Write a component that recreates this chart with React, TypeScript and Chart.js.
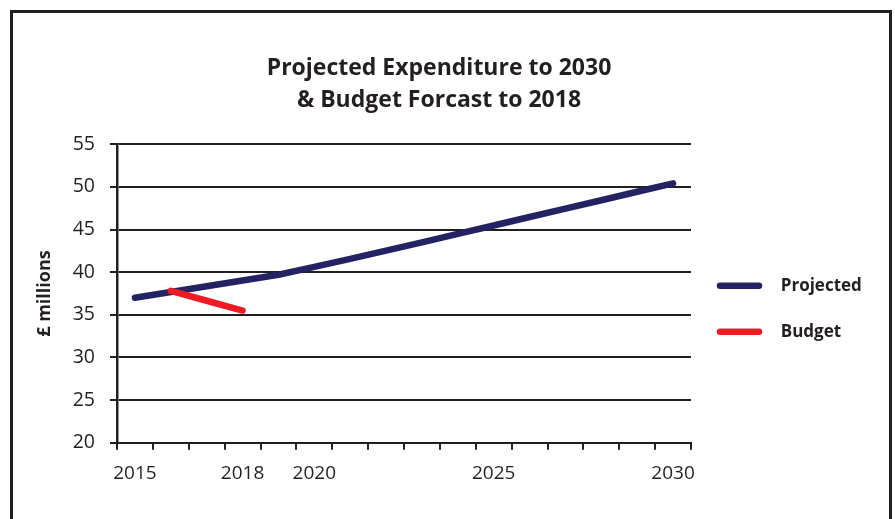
import React, { useEffect, useRef } from 'react';
import { Chart, registerables } from 'chart.js';

Chart.register(...registerables);

// ---- data ----
const categories = [
  '2015', '2016', '2017', '2018', '2019', '2020', '2021', '2022',
  '2023', '2024', '2025', '2026', '2027', '2028', '2029', '2030',
];
const projected = [
  37.0, 37.68, 38.35, 39.03, 39.7, 40.63, 41.57, 42.52,
  43.5, 44.5, 45.48, 46.47, 47.45, 48.44, 49.43, 50.42,
];
const budget = [
  null, 37.8, 36.65, 35.5, null, null, null, null,
  null, null, null, null, null, null, null, null,
];
const labeledYears = ['2015', '2018', '2020', '2025', '2030'];
const seriesNames = ['Projected', 'Budget'];
const titleLines = ['Projected Expenditure to 2030', '& Budget Forcast to 2018'];
const yAxisTitle = '£ millions';
const yMin = 20;
const yMax = 55;
const yStep = 5;

// ---- styles ----
const INK = '#231f20';
const NAVY = '#252263';
const RED = '#ed1c24';
const FONT = "'Open Sans', sans-serif";

export default function App() {
  const canvasRef = useRef<HTMLCanvasElement | null>(null);

  useEffect(() => {
    const canvas = canvasRef.current;
    if (!canvas) return;
    const chart = new Chart(canvas, {
      type: 'line',
      data: {
        labels: categories,
        datasets: [
          {
            label: seriesNames[0],
            data: projected,
            borderColor: NAVY,
            backgroundColor: NAVY,
            borderWidth: 6.5,
            borderCapStyle: 'round',
            borderJoinStyle: 'round',
            pointRadius: 0,
            tension: 0,
            order: 1,
          },
          {
            label: seriesNames[1],
            data: budget,
            borderColor: RED,
            backgroundColor: RED,
            borderWidth: 6.5,
            borderCapStyle: 'round',
            borderJoinStyle: 'round',
            pointRadius: 0,
            tension: 0,
            spanGaps: false,
            order: 0,
          },
        ],
      },
      options: {
        responsive: false,
        animation: false,
        devicePixelRatio: 1,
        layout: { padding: 0 },
        plugins: {
          tooltip: { enabled: false },
          title: {
            display: true,
            text: titleLines,
            color: INK,
            font: { family: FONT, size: 23, weight: 'bold', lineHeight: '32px' },
            padding: { top: 52.2, bottom: 28.1 },
          },
          legend: {
            display: true,
            position: 'right',
            align: 'center',
            fullSize: false,
            maxWidth: 187,
            title: {
              display: true,
              text: '',
              font: { size: 10, lineHeight: 3.04 },
              padding: 0,
            },
            labels: {
              usePointStyle: true,
              pointStyle: 'line',
              pointStyleWidth: 39,
              padding: 29,
              color: INK,
              font: { family: FONT, size: 17, weight: 'bold' },
              sort: (a: any, b: any) => a.datasetIndex - b.datasetIndex,
              generateLabels: (c: any) =>
                Chart.defaults.plugins.legend.labels
                  .generateLabels(c)
                  .map((l: any) => ({
                    ...l,
                    text: '   ' + l.text + '      ',
                    lineCap: 'round',
                    lineWidth: 6.5,
                  })),
            },
          },
        },
        scales: {
          x: {
            type: 'category',
            offset: true,
            afterFit: (scale: any) => {
              scale.height = 519 - 442.7;
            },
            grid: {
              offset: true,
              drawOnChartArea: false,
              drawTicks: true,
              tickLength: 7,
              color: INK,
              lineWidth: 2,
            },
            border: { display: true, color: INK, width: 2 },
            ticks: {
              autoSkip: false,
              maxRotation: 0,
              minRotation: 0,
              padding: 12,
              color: INK,
              font: { family: FONT, size: 19 },
              callback: (_v: any, i: number) =>
                labeledYears.includes(categories[i]) ? categories[i] : '',
            },
          },
          y: {
            min: yMin,
            max: yMax,
            afterFit: (scale: any) => {
              scale.width = 117;
            },
            grid: {
              color: INK,
              lineWidth: 2,
              drawTicks: true,
              tickLength: 7,
            },
            border: { display: true, color: INK, width: 2.5 },
            ticks: {
              stepSize: yStep,
              padding: 15,
              color: INK,
              font: { family: FONT, size: 19.5 },
            },
            title: {
              display: true,
              text: yAxisTitle,
              color: INK,
              font: { family: FONT, size: 18, weight: 'bold', lineHeight: 1.2 },
              padding: { top: 34, bottom: 0 },
            },
          },
        },
      },
    } as any);
    return () => chart.destroy();
  }, []);

  return (
    <div>
      <div
        style={{
          position: 'absolute',
          left: 10,
          top: 10,
          width: 882,
          height: 540,
          border: `3px solid ${INK}`,
          boxSizing: 'border-box',
        }}
      />
      <canvas
        ref={canvasRef}
        width={878}
        height={519}
        style={{ position: 'absolute', left: 0, top: 0, display: 'block' }}
      />
    </div>
  );
}
